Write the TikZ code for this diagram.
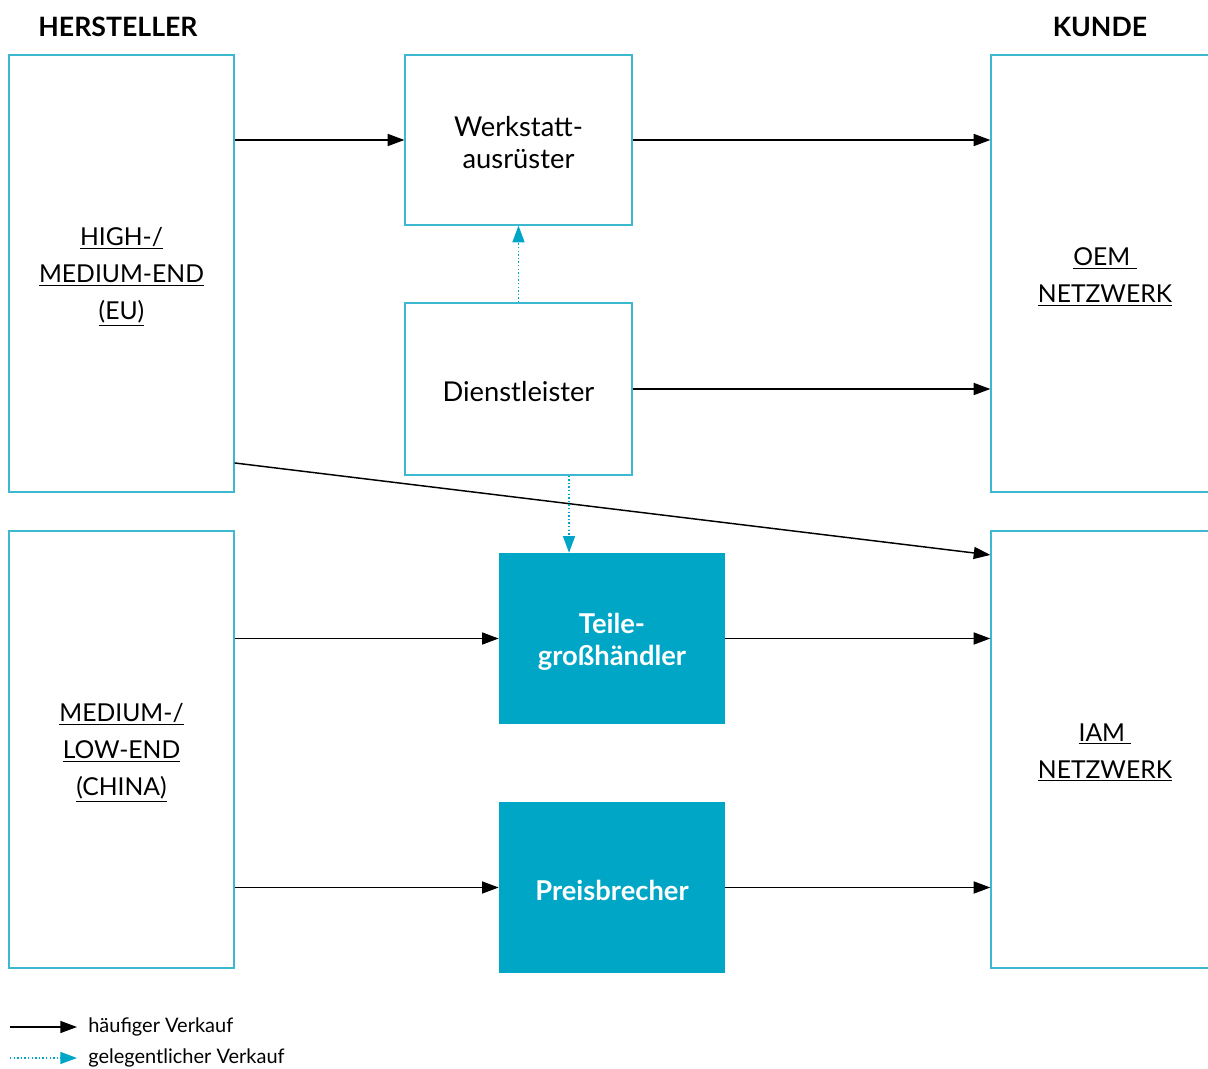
\documentclass[tikz,border=0pt]{standalone}
\usepackage{fontspec}
\setmainfont{Lato}
\usetikzlibrary{arrows.meta}
\definecolor{teal}{RGB}{0,166,198}
\definecolor{frame}{RGB}{60,184,208}
\tikzset{
  frm/.style={draw=frame, line width=0.9pt, fill=white, inner sep=0pt},
  % tall boxes: the label sits slightly below the geometric middle
  box/.style={frm, label={[align=center, yshift=-2.5pt,
              font=\fontsize{18.5}{27.75}\selectfont]center:#1}},
  inbox/.style={frm, label={[align=center, yshift=-2pt,
              font=\fontsize{20.5}{24.5}\selectfont]center:#1}},
  filled/.style={draw=none, fill=teal, inner sep=0pt,
              label={[align=center, yshift=-2.5pt, text=white,
              font=\bfseries\fontsize{20.5}{24.5}\selectfont]center:#1}},
  arr/.style={line width=1.1pt, -{Triangle[length=12.5pt,width=9pt]}},
  occ/.style={draw=teal, line width=1.1pt, dash pattern=on 1.1pt off 1.6pt,
              -{Triangle[length=12.5pt,width=9pt,color=teal,fill=teal]}},
  heading/.style={font=\bfseries\fontsize{20}{22}\selectfont},
  legend/.style={font=\fontsize{15}{17}\selectfont, anchor=west, inner sep=0pt}
}
\begin{document}
\begin{tikzpicture}[x=0.75pt,y=-0.75pt]
\useasboundingbox (0,0) rectangle (1208,1069);
\clip (0,0) rectangle (1208,1069);

% headings
\node[heading] (hersteller) at (118,27) {HERSTELLER};
\node[heading] (kunde) at (1100,27) {KUNDE};

% manufacturers
\node[box={\underline{HIGH-/}\\\underline{MEDIUM-END}\\\underline{(EU)}},
      minimum width=168.75pt, minimum height=327.75pt] (hme) at (121.5,273.5) {};
\node[box={\underline{MEDIUM-/}\\\underline{LOW-END}\\\underline{(CHINA)}},
      minimum width=168.75pt, minimum height=327.75pt] (mle) at (121.5,749.5) {};

% intermediaries
\node[inbox={Werkstatt-\\ausrüster}, minimum width=170.25pt, minimum height=127.5pt] (wk) at (518.5,140) {};
\node[inbox={Dienstleister}, minimum width=170.25pt, minimum height=129pt] (dl) at (518.5,389) {};
\node[filled={Teile-\\großhändler}, minimum width=169.5pt, minimum height=128.25pt] (tg) at (612,638.5) {};
\node[filled={Preisbrecher}, minimum width=169.5pt, minimum height=128.25pt] (pb) at (612,887.5) {};

% customers
\node[box={\underline{OEM\ }\\\underline{NETZWERK}},
      minimum width=171pt, minimum height=327.75pt] (oem) at (1105,273.5) {};
\node[box={\underline{IAM\ }\\\underline{NETZWERK}},
      minimum width=171pt, minimum height=327.75pt] (iam) at (1105,749.5) {};

% frequent sales
\draw[arr] (hme.east |- wk.west) -- (wk.west);
\draw[arr] (wk.east) -- (wk.east -| oem.west);
\draw[arr] (dl.east) -- (dl.east -| oem.west);
\draw[arr] ([yshift=-142.1pt]hme.east) -- ([yshift=145.9pt]iam.west);
\draw[arr] (mle.east |- tg.west) -- (tg.west);
\draw[arr] (tg.east) -- (tg.east -| iam.west);
\draw[arr] (mle.east |- pb.west) -- (pb.west);
\draw[arr] (pb.east) -- (pb.east -| iam.west);

% occasional sales
\draw[occ] (dl.north) -- (wk.south);
\draw[occ] ([xshift=37.9pt]dl.south) -- ([xshift=37.9pt]dl.south |- tg.north);

% legend
\coordinate (l1a) at (10,1027);
\coordinate (l1b) at (77,1027);
\coordinate (l2a) at (10,1058);
\coordinate (l2b) at (77,1058);
\draw[arr] (l1a) -- (l1b);
\draw[occ] (l2a) -- (l2b);
\node[legend] (lg1) at (88,1027) {häufiger Verkauf};
\node[legend] (lg2) at (88,1058) {gelegentlicher Verkauf};
\end{tikzpicture}
\end{document}
